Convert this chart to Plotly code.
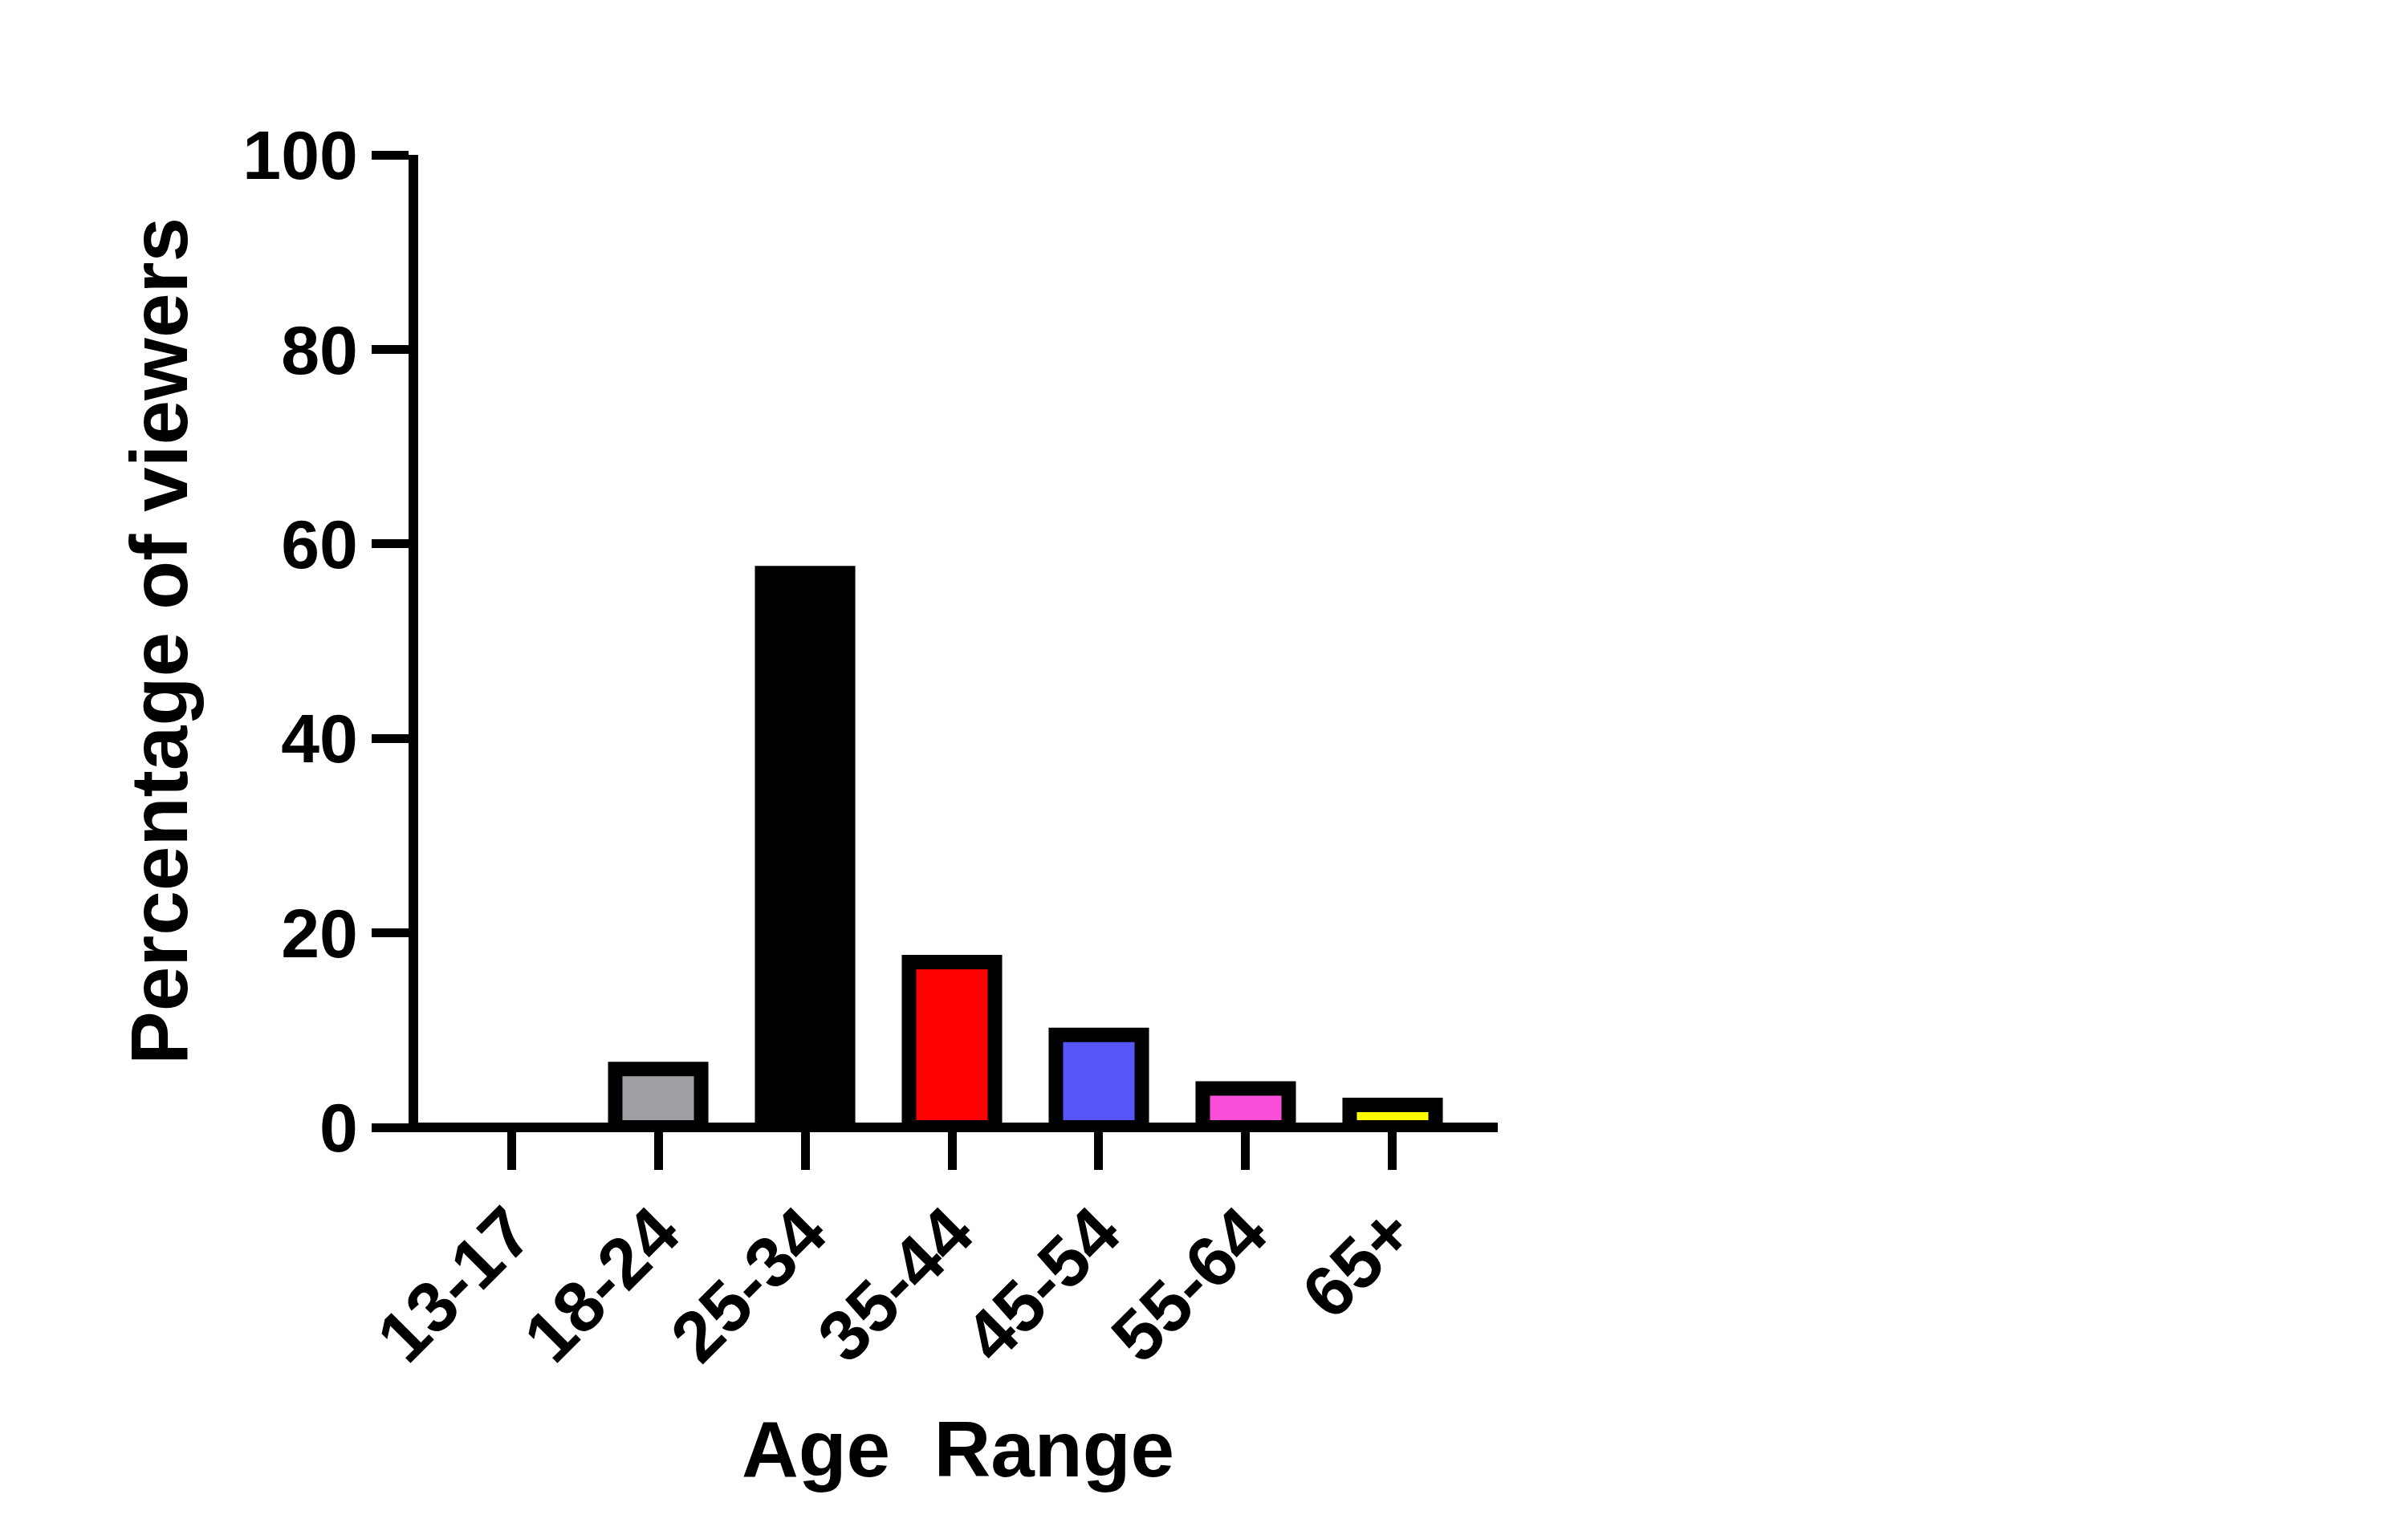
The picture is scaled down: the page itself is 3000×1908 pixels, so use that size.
import plotly.graph_objects as go

categories = ["13-17", "18-24", "25-34", "35-44", "45-54", "55-64", "65+"]
percentages = [0, 6, 57, 17, 9.5, 4, 2.3]
bar_colors = ["#FFFFFF", "#A0A0A4", "#000000", "#FF0000", "#5656F8", "#F94FD9", "#FFFF00"]
border_widths = [0, 18, 18, 18, 18, 18, 18]
y_ticks = [0, 20, 40, 60, 80, 100]

W, H = 3000, 1908
plot_left, plot_right = 513, 1858
plot_top, plot_bottom = 185, 1397
plot_w = plot_right - plot_left

font_family = "Liberation Sans, Arial, Helvetica, sans-serif"

fig = go.Figure(
    go.Bar(
        x=categories,
        y=percentages,
        width=0.585,
        marker=dict(color=bar_colors, line=dict(color="black", width=border_widths)),
        showlegend=False,
    )
)

fig.update_layout(
    width=W,
    height=H,
    paper_bgcolor="white",
    plot_bgcolor="white",
    margin=dict(l=plot_left, r=W - plot_right, t=plot_top, b=H - plot_bottom, autoexpand=False),
    shapes=[
        dict(
            type="line", xref="paper", yref="paper",
            x0=-12 / plot_w, x1=1, y0=0, y1=0,
            line=dict(color="black", width=12),
            layer="above",
        )
    ],
)

fig.update_xaxes(
    type="category",
    categoryorder="array",
    categoryarray=categories,
    range=[-0.634, 6.716],
    showline=False,
    showgrid=False,
    zeroline=False,
    ticks="outside",
    ticklen=52,
    tickwidth=11,
    tickcolor="black",
    tickangle=-45,
    ticklabelstandoff=-10,
    tickfont=dict(family=font_family, size=89, color="black", weight="bold"),
    title=dict(text="Age\u00a0 Range", font=dict(family=font_family, size=98, color="black", weight="bold"), standoff=56),
    automargin=False,
)

fig.update_yaxes(
    range=[0, 100],
    tickvals=y_ticks,
    ticktext=[str(v) for v in y_ticks],
    showline=True,
    linewidth=12,
    linecolor="black",
    showgrid=False,
    zeroline=False,
    ticks="outside",
    ticklen=46,
    tickwidth=11,
    tickcolor="black",
    tickfont=dict(family=font_family, size=86, color="black", weight="bold"),
    title=dict(text="Percentage of viewers", font=dict(family=font_family, size=100, color="black", weight="bold"), standoff=40),
    automargin=False,
)

fig.write_html("out.html")
